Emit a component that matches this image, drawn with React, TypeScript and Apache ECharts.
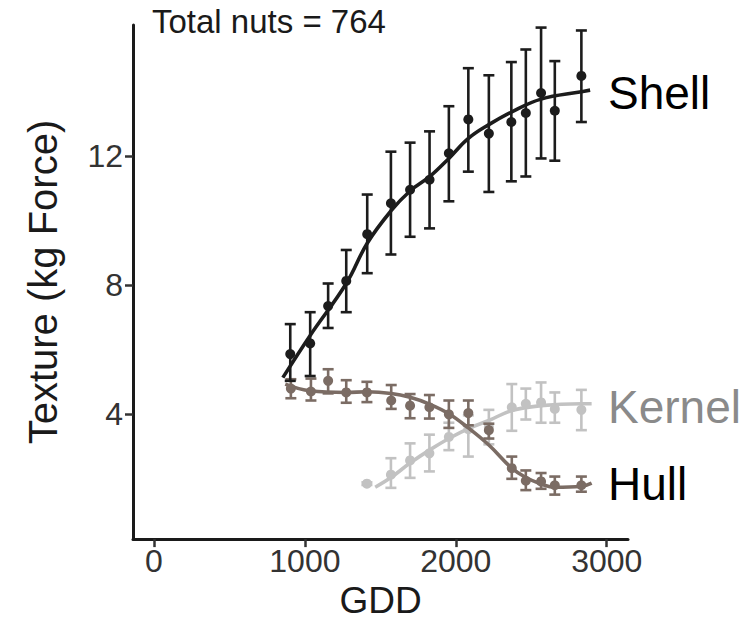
import React, { useEffect, useRef } from "react";
import * as echarts from "echarts";

// Shell: [GDD, mean, low, high]
const shellX = [903, 1035, 1154, 1274, 1413, 1570, 1697, 1826, 1954, 2083, 2219, 2368, 2464, 2565, 2656, 2832];
const shellY = [5.86, 6.19, 7.35, 8.13, 9.58, 10.54, 10.96, 11.27, 12.09, 13.14, 12.7, 13.06, 13.34, 13.96, 13.41, 14.49];
const shellLo = [5.03, 5.18, 6.67, 7.16, 8.37, 8.95, 9.5, 9.76, 10.6, 11.52, 10.89, 11.22, 11.37, 11.93, 11.86, 13.06];
const shellHi = [6.79, 7.16, 8.05, 9.09, 10.81, 12.14, 12.42, 12.77, 13.55, 14.73, 14.51, 14.92, 15.31, 15.99, 14.95, 15.9];
const shellFitX = [854, 1035, 1274, 1413, 1570, 1697, 1828, 1954, 2083, 2219, 2368, 2565, 2832, 2890];
const shellFitY = [5.13, 6.44, 8.05, 9.3, 10.3, 10.92, 11.37, 11.93, 12.55, 12.98, 13.37, 13.77, 14.0, 14.05];

const hullX = [907, 1040, 1154, 1274, 1411, 1572, 1697, 1825, 1954, 2083, 2219, 2371, 2464, 2565, 2656, 2832];
const hullY = [4.79, 4.7, 5.03, 4.67, 4.67, 4.42, 4.26, 4.21, 3.99, 4.03, 3.5, 2.32, 1.93, 1.91, 1.79, 1.79];
const hullLo = [4.49, 4.42, 4.64, 4.35, 4.37, 4.16, 3.87, 3.86, 3.57, 3.65, 3.24, 1.99, 1.64, 1.68, 1.5, 1.59];
const hullHi = [5.08, 5.1, 5.39, 5.05, 5.0, 4.9, 4.62, 4.59, 4.42, 4.42, 3.7, 2.68, 2.25, 2.17, 2.06, 2.06];
const hullFitX = [870, 1035, 1274, 1411, 1572, 1697, 1825, 1954, 2083, 2219, 2371, 2464, 2565, 2656, 2832, 2900];
const hullFitY = [4.93, 4.72, 4.67, 4.69, 4.64, 4.52, 4.31, 4.01, 3.57, 3.04, 2.32, 2.03, 1.83, 1.73, 1.76, 1.86];

const kernelX = [1411, 1570, 1697, 1825, 1954, 2083, 2219, 2371, 2464, 2565, 2656, 2832];
const kernelY = [1.84, 2.12, 2.56, 2.78, 3.29, 3.53, 3.6, 4.21, 4.32, 4.36, 4.16, 4.13];
const kernelLo = [1.8, 1.71, 2.02, 2.22, 2.88, 2.68, 3.06, 3.48, 3.83, 3.73, 3.73, 3.5];
const kernelHi = [1.88, 2.63, 3.09, 3.36, 3.73, 3.96, 4.13, 4.93, 4.79, 4.98, 4.67, 4.75];
const kernelFitX = [1466, 1570, 1697, 1825, 1954, 2083, 2219, 2371, 2565, 2832, 2900];
const kernelFitY = [1.73, 2.03, 2.48, 2.88, 3.24, 3.55, 3.8, 4.11, 4.26, 4.32, 4.32];

const xTicks = [0, 1000, 2000, 3000];
const yTicks = [4, 8, 12];

const SHELL = "#1c1c1c";
const HULL = "#7b6c64";
const KERNEL = "#c2c2c2";
const FONT = "'Liberation Sans', Arial, sans-serif";

function errSeries(xs: number[], lo: number[], hi: number[], color: string, z: number) {
  return {
    type: "custom",
    z,
    data: xs.map((x, i) => [x, lo[i], hi[i]]),
    renderItem: (_p: any, api: any) => {
      const x = api.value(0);
      const a = api.coord([x, api.value(1)]);
      const b = api.coord([x, api.value(2)]);
      const w = 5.5;
      const st = { stroke: color, lineWidth: 2.6 };
      return {
        type: "group",
        children: [
          { type: "line", shape: { x1: a[0], y1: a[1], x2: b[0], y2: b[1] }, style: st },
          { type: "line", shape: { x1: a[0] - w, y1: a[1], x2: a[0] + w, y2: a[1] }, style: st },
          { type: "line", shape: { x1: b[0] - w, y1: b[1], x2: b[0] + w, y2: b[1] }, style: st },
        ],
      };
    },
  };
}

function pts(xs: number[], ys: number[], color: string, z: number) {
  return {
    type: "scatter",
    z,
    symbolSize: 10,
    itemStyle: { color, opacity: 1 },
    data: xs.map((x, i) => [x, ys[i]]),
  };
}

function fit(xs: number[], ys: number[], color: string, z: number) {
  return {
    type: "line",
    z,
    smooth: 0.4,
    showSymbol: false,
    symbol: "none",
    lineStyle: { color, width: 3.6 },
    data: xs.map((x, i) => [x, ys[i]]),
  };
}

export default function App() {
  const ref = useRef<HTMLDivElement>(null);
  useEffect(() => {
    if (!ref.current) return;
    const chart = echarts.init(ref.current, null, { renderer: "svg" });
    chart.setOption({
      animation: false,
      backgroundColor: "#ffffff",
      grid: { left: 133, right: 121, top: 25, bottom: 79 },
      xAxis: {
        type: "value",
        min: -139,
        max: 3141,
        name: "GDD",
        nameLocation: "middle",
        nameGap: 40,
        nameTextStyle: { color: "#1a1a1a", fontSize: 37, fontFamily: FONT, verticalAlign: "top" },
        axisLine: { show: true, onZero: false, lineStyle: { color: "#1a1a1a", width: 3 } },
        axisTick: { show: true, length: 8, customValues: xTicks, lineStyle: { color: "#333", width: 2.5 } },
        axisLabel: { customValues: xTicks, color: "#333", fontSize: 32, fontFamily: FONT, margin: 6, formatter: (v: number) => String(v) },
        splitLine: { show: false },
      },
      yAxis: {
        type: "value",
        min: 0.12,
        max: 16.07,
        name: "Texture (kg Force)",
        nameLocation: "middle",
        nameGap: 70,
        nameRotate: 90,
        nameTextStyle: { color: "#1a1a1a", fontSize: 40, fontFamily: FONT },
        axisLine: { show: true, onZero: false, lineStyle: { color: "#1a1a1a", width: 3 } },
        axisTick: { show: true, length: 8, customValues: yTicks, lineStyle: { color: "#333", width: 2.5 } },
        axisLabel: { customValues: yTicks, color: "#333", fontSize: 32, fontFamily: FONT, margin: 10 },
        splitLine: { show: false },
      },
      graphic: [
        { type: "text", left: 152, top: 5, style: { text: "Total nuts = 764", fontSize: 33, fontFamily: FONT, fill: "#1a1a1a" } },
        { type: "text", x: 608, y: 93, style: { text: "Shell", fontSize: 46, fontFamily: FONT, fill: "#000", verticalAlign: "middle" } },
        { type: "text", x: 608, y: 407, style: { text: "Kernel", fontSize: 46, fontFamily: FONT, fill: "#8a8a8a", verticalAlign: "middle" } },
        { type: "text", x: 608, y: 484, style: { text: "Hull", fontSize: 46, fontFamily: FONT, fill: "#000", verticalAlign: "middle" } },
      ],
      series: [
        errSeries(kernelX, kernelLo, kernelHi, KERNEL, 2),
        fit(kernelFitX, kernelFitY, KERNEL, 3),
        pts(kernelX, kernelY, KERNEL, 4),
        errSeries(hullX, hullLo, hullHi, HULL, 5),
        fit(hullFitX, hullFitY, HULL, 6),
        pts(hullX, hullY, HULL, 7),
        errSeries(shellX, shellLo, shellHi, SHELL, 8),
        fit(shellFitX, shellFitY, SHELL, 9),
        pts(shellX, shellY, SHELL, 10),
      ],
    });
    return () => chart.dispose();
  }, []);
  return <div ref={ref} style={{ position: "fixed", left: 0, top: 0, width: 749, height: 624 }} />;
}
